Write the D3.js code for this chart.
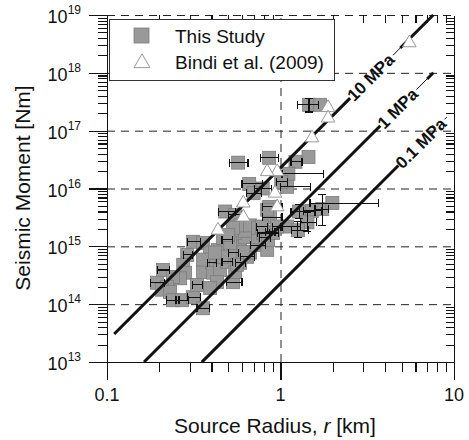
<!DOCTYPE html>
<html>
<head>
<meta charset="utf-8">
<script src="https://cdn.jsdelivr.net/npm/d3@7"></script>
<style>
  body { margin: 0; background: #fff; }
  svg { display: block; font-family: "Liberation Sans", Arial, Helvetica, sans-serif; }
</style>
</head>
<body>
<svg id="chart" width="469" height="440"></svg>
<script>
/* ---------- data ---------- */
// tick labels
const xMajor = [0.1, 1, 10];
const xTickLabels = ["0.1", "1", "10"];
const yExponents = [13, 14, 15, 16, 17, 18, 19];

// This Study: [radius km, moment Nm, rLo, rHi, mLo, mHi]
const studyPoints = [
  [1.46, 2.8e17, 1.25, 1.66, 2.1e17, 3.6e17],
  [1.69, 2.8e17],
  [0.57, 2.8e16, 0.51, 0.65],
  [0.86, 3.4e16, 0.77, 0.97],
  [1.45, 3.5e16],
  [1.22, 2.9e16, 1.15, 1.33],
  [1.11, 1.8e16, 1.02, 1.76],
  [0.66, 1.2e16, 0.60, 0.79],
  [0.79, 1.0e16, 0.71, 0.89],
  [0.70, 8.3e15, 0.64, 0.78],
  [1.09, 1.07e16, 1.0, 1.49],
  [1.01, 1.3e16, 0.95, 1.1],
  [0.86, 4.8e15, 0.79, 1.02],
  [0.87, 3.2e15, 0.79, 1.02],
  [1.28, 4.0e15, 1.15, 1.58, 3.0e15, 5.3e15],
  [1.52, 4.1e15, 1.36, 1.72],
  [1.74, 4.4e15, 1.58, 1.9, 2.3e15, 7.8e15],
  [1.99, 5.6e15, 1.48, 3.66],
  [1.43, 2.6e15, 1.3, 1.62, 1.8e15, 3.8e15],
  [1.09, 2.2e15, 1.0, 1.3],
  [1.26, 1.9e15, 1.16, 1.45, 1.4e15, 2.7e15],
  [0.48, 4.0e15, 0.44, 0.55],
  [0.548, 3.5e15, 0.50, 0.60],
  [0.313, 1.2e15, 0.29, 0.345],
  [0.358, 1.15e15],
  [0.29, 7.1e14, 0.275, 0.31],
  [0.194, 2.35e14, 0.178, 0.215],
  [0.21, 3.9e14, 0.195, 0.23],
  [0.275, 4.8e14],
  [0.282, 3.5e14],
  [0.264, 2.8e14],
  [0.24, 2.95e14],
  [0.222, 2.0e14],
  [0.207, 1.78e14],
  [0.231, 1.63e14],
  [0.24, 1.17e14, 0.22, 0.26],
  [0.271, 1.17e14, 0.25, 0.295],
  [0.313, 1.32e14, 0.29, 0.345],
  [0.33, 2.15e14, 0.31, 0.355],
  [0.358, 3.6e14],
  [0.404, 5.2e14, 0.38, 0.43],
  [0.409, 3.5e14],
  [0.449, 3.9e14],
  [0.492, 5.4e14, 0.46, 0.53],
  [0.431, 2.4e14],
  [0.393, 1.9e14],
  [0.533, 2.4e14, 0.49, 0.6],
  [0.585, 5.2e14, 0.55, 0.63],
  [0.548, 3.6e14],
  [0.643, 6.6e14, 0.59, 0.71],
  [0.585, 9.7e14],
  [0.668, 7.8e14],
  [0.734, 1.05e15, 0.67, 0.82],
  [0.695, 1.44e15],
  [0.794, 1.7e15, 0.74, 0.86],
  [0.625, 1.44e15],
  [0.548, 1.7e15],
  [0.492, 1.29e15, 0.46, 0.53],
  [0.436, 8.7e14],
  [0.393, 7.8e14],
  [0.358, 5.9e14],
  [0.533, 7.8e14, 0.5, 0.57],
  [0.461, 6.6e14],
  [0.358, 8.5e13, 0.33, 0.39],
  [0.61, 8.0e14],
  [0.625, 1.86e15],
  [0.467, 1.4e15],
  [0.513, 1.15e15],
  [0.42, 7.8e14],
  [0.585, 2.3e15],
  [0.668, 2.3e15],
  [0.743, 2.1e15],
  [0.816, 1.4e15, 0.76, 0.88],
  [0.87, 1.8e15, 0.82, 0.93],
  [0.533, 2.1e15],
  [0.838, 8.7e14],
  [0.849, 1.29e15],
  [0.907, 1.7e15, 0.86, 0.97],
  [0.957, 2.2e15, 0.9, 1.02],
  [0.783, 2.2e15, 0.73, 0.84],
  [0.5, 1.58e15],
  [0.562, 4.8e14],
  [0.838, 4.3e15]
];

// Bindi et al. (2009): [radius km, moment Nm]
const bindiPoints = [
  [5.53, 3.3e18], [1.88, 2.5e17], [1.88, 1.65e17], [1.52, 7.5e16],
  [0.957, 1.95e16], [0.838, 1.95e16], [0.93, 8.3e15], [0.957, 4.8e15],
  [0.61, 5.6e15], [0.61, 3.2e15], [0.436, 1.9e15]
];

// constant stress-drop lines (MPa), radius range (km), where the label sits
const stressDrops = [10, 1, 0.1];
const stressLabels = ["10 MPa", "1 MPa", "0.1 MPa"];
const lineStartR = [0.11, 0.1635, 0.352];
const lineEndR = [7.59, 7.6, 9.1];
const labelStartR = [2.52, 3.76, 4.78];
const resumeR = [4.9, 7.0, 9.1];

const legendItems = ["This Study", "Bindi et al. (2009)"];

/* ---------- helpers ---------- */
// M0 = 16/7 * stress drop * r^3 (r in m, stress in Pa)
const moment = (rKm, mpa) => 16 / 7 * mpa * 1e6 * Math.pow(rKm * 1000, 3);

/* ---------- draw ---------- */
const svg = d3.select("#chart");
const L = 107, R = 454, T = 15, B = 362;
const x = d3.scaleLog().domain([0.1, 10]).range([L, R]);
const y = d3.scaleLog().domain([1e13, 1e19]).range([B, T]);

const xMinor = [0.1, 1].flatMap(d => d3.range(2, 10).map(k => k * d));
const yMajor = yExponents.map(e => Math.pow(10, e));
const yMinor = yExponents.slice(0, -1)
  .flatMap(e => d3.range(2, 10).map(k => k * Math.pow(10, e)));

const styleAxis = g => {
  g.attr("shape-rendering", "crispEdges").attr("color", "#111");
  g.selectAll("line").attr("stroke-width", 1.1);
  g.select(".domain").attr("stroke-width", 1.2);
};

// dashed grid
svg.append("g")
  .attr("transform", `translate(${L},0)`)
  .call(d3.axisLeft(y).tickValues(yMajor.slice(1)).tickSize(-(R - L)).tickSizeOuter(0).tickFormat(""))
  .call(g => g.select(".domain").remove())
  .call(g => g.selectAll("line").attr("stroke", "#222").attr("stroke-dasharray", "8,6"));

svg.append("g")
  .attr("transform", `translate(0,${B})`)
  .call(d3.axisBottom(x).tickValues([1]).tickSize(-(B - T)).tickSizeOuter(0).tickFormat(""))
  .call(g => g.select(".domain").remove())
  .call(g => g.selectAll("line").attr("stroke", "#222").attr("stroke-dasharray", "8,6"));

// left axis (outward ticks)
svg.append("g").attr("transform", `translate(${L},0)`)
  .call(d3.axisLeft(y).tickValues(yMajor).tickSize(18).tickSizeOuter(0).tickFormat(""))
  .call(styleAxis);
svg.append("g").attr("transform", `translate(${L},0)`)
  .call(d3.axisLeft(y).tickValues(yMinor).tickSize(9).tickSizeOuter(0).tickFormat(""))
  .call(styleAxis);

// right axis (inward ticks)
svg.append("g").attr("transform", `translate(${R},0)`)
  .call(d3.axisLeft(y).tickValues(yMinor).tickSize(8).tickSizeOuter(0).tickFormat(""))
  .call(styleAxis);

// bottom axis (outward)
svg.append("g").attr("transform", `translate(0,${B})`)
  .call(d3.axisBottom(x).tickValues(xMajor).tickSize(18).tickSizeOuter(0).tickFormat(""))
  .call(styleAxis);
svg.append("g").attr("transform", `translate(0,${B})`)
  .call(d3.axisBottom(x).tickValues(xMinor).tickSize(10).tickSizeOuter(0).tickFormat(""))
  .call(styleAxis);

// top axis (inward, no solid line)
svg.append("g").attr("transform", `translate(0,${T})`)
  .call(d3.axisBottom(x).tickValues(xMinor).tickSize(8).tickSizeOuter(0).tickFormat(""))
  .call(styleAxis)
  .call(g => g.select(".domain").remove());

// tick labels
svg.append("g").selectAll("text")
  .data(xMajor)
  .join("text")
  .attr("x", d => x(d))
  .attr("y", 401)
  .attr("text-anchor", "middle")
  .attr("font-size", 18)
  .attr("fill", "#111")
  .text((d, i) => xTickLabels[i]);

const yLab = svg.append("g").selectAll("text")
  .data(yExponents)
  .join("text")
  .attr("x", 81)
  .attr("y", e => y(Math.pow(10, e)) + 8)
  .attr("text-anchor", "end")
  .attr("fill", "#111")
  .attr("font-size", 18);
yLab.append("tspan").text("10");
yLab.append("tspan").attr("dy", -9).attr("font-size", 12).text(e => e);

// axis titles
svg.append("text")
  .attr("transform", "translate(30,188) rotate(-90)")
  .attr("text-anchor", "middle")
  .attr("font-size", 21)
  .attr("fill", "#111")
  .text("Seismic Moment [Nm]");

const xt = svg.append("text")
  .attr("x", 275).attr("y", 433)
  .attr("text-anchor", "middle")
  .attr("font-size", 21)
  .attr("fill", "#111");
xt.append("tspan").text("Source Radius, ");
xt.append("tspan").attr("font-style", "italic").text("r");
xt.append("tspan").text(" [km]");

/* ---------- data marks ---------- */
const SQ = 13;
svg.append("g").selectAll("rect")
  .data(studyPoints)
  .join("rect")
  .attr("x", d => x(d[0]) - SQ / 2)
  .attr("y", d => y(d[1]) - SQ / 2)
  .attr("width", SQ).attr("height", SQ)
  .attr("fill", "#999")
  .attr("stroke", "#7c7c7c")
  .attr("stroke-width", 0.8);

// error bars
const eb = svg.append("g").attr("stroke", "#111").attr("stroke-width", 1.1)
  .attr("shape-rendering", "crispEdges");
studyPoints.filter(d => d[2] != null).forEach(d => {
  const yy = y(d[1]);
  eb.append("line").attr("x1", x(d[2])).attr("x2", x(d[3])).attr("y1", yy).attr("y2", yy);
  [d[2], d[3]].forEach(v => eb.append("line")
    .attr("x1", x(v)).attr("x2", x(v)).attr("y1", yy - 4).attr("y2", yy + 4));
});
studyPoints.filter(d => d[4] != null).forEach(d => {
  const xx = x(d[0]);
  eb.append("line").attr("x1", xx).attr("x2", xx).attr("y1", y(d[4])).attr("y2", y(d[5]));
  [d[4], d[5]].forEach(v => eb.append("line")
    .attr("x1", xx - 4).attr("x2", xx + 4).attr("y1", y(v)).attr("y2", y(v)));
});

// stress-drop lines with inline labels
const pt = (r, s) => [x(r), y(moment(r, s))];
const lines = svg.append("g").attr("fill", "none").attr("stroke", "#111");
stressDrops.forEach((s, i) => {
  const p0 = pt(lineStartR[i], s), pa = pt(labelStartR[i], s);
  const ang = Math.atan2(pa[1] - p0[1], pa[0] - p0[0]);
  lines.append("line").attr("x1", p0[0]).attr("y1", p0[1]).attr("x2", pa[0]).attr("y2", pa[1])
    .attr("stroke-width", 3);

  const lab = svg.append("text")
    .attr("transform", `translate(${pa[0]},${pa[1]}) rotate(${ang * 180 / Math.PI})`)
    .attr("dy", "0.35em")
    .attr("font-size", 17)
    .attr("font-weight", "bold")
    .attr("fill", "#111")
    .text(stressLabels[i]);
  const len = lab.node().getComputedTextLength() + 2;
  const rb = x.invert(pa[0] + len * Math.cos(ang));
  const pb = pt(rb, s), pc = pt(resumeR[i], s), p1 = pt(lineEndR[i], s);
  lines.append("line").attr("x1", pb[0]).attr("y1", pb[1]).attr("x2", pc[0]).attr("y2", pc[1])
    .attr("stroke-width", 1);
  if (lineEndR[i] > resumeR[i]) {
    lines.append("line").attr("x1", pc[0]).attr("y1", pc[1]).attr("x2", p1[0]).attr("y2", p1[1])
      .attr("stroke-width", 3);
  }
});

// Bindi triangles
const tri = d3.symbol().type(d3.symbolTriangle).size(80);
svg.append("g").selectAll("path")
  .data(bindiPoints)
  .join("path")
  .attr("d", tri)
  .attr("transform", d => `translate(${x(d[0])},${y(d[1])})`)
  .attr("fill", "#fff")
  .attr("stroke", "#999")
  .attr("stroke-width", 1);

/* ---------- legend ---------- */
const lg = svg.append("g");
lg.append("rect")
  .attr("x", 109.5).attr("y", 19.5).attr("width", 225).attr("height", 61)
  .attr("fill", "#fff").attr("stroke", "#333").attr("stroke-width", 1);
lg.append("rect")
  .attr("x", 134).attr("y", 28).attr("width", 15).attr("height", 15)
  .attr("fill", "#999").attr("stroke", "#7c7c7c").attr("stroke-width", 0.8);
lg.append("path")
  .attr("d", d3.symbol().type(d3.symbolTriangle).size(110))
  .attr("transform", "translate(142,63)")
  .attr("fill", "#fff").attr("stroke", "#999");
lg.selectAll("text.lab")
  .data(legendItems)
  .join("text")
  .attr("class", "lab")
  .attr("x", 175)
  .attr("y", (d, i) => 43 + i * 26)
  .attr("font-size", 19)
  .attr("fill", "#111")
  .text(d => d);
</script>
</body>
</html>
